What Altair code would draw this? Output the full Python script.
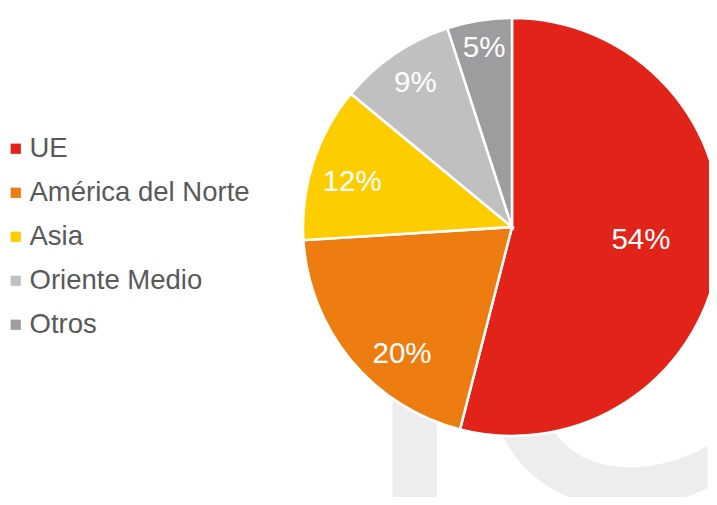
import math
import altair as alt
import pandas as pd

categorias = ["UE", "América del Norte", "Asia", "Oriente Medio", "Otros"]
valores = [54, 20, 12, 9, 5]
etiquetas = ["54%", "20%", "12%", "9%", "5%"]
colores = ["#E2231A", "#EE7D11", "#FDCD00", "#C1C0C1", "#9D9C9E"]
marca_r = ["r"]
marca_c = ["c"]

df = pd.DataFrame({
    "categoria": categorias,
    "valor": valores,
    "etiqueta": etiquetas,
    "orden": list(range(len(categorias))),
})

CX, CY, R = 504, 219, 209
theta_scale = alt.Scale(domain=[0, 100], range=[0, 2 * math.pi])

def wm_layer(letra, x, y, size, align):
    return alt.Chart(pd.DataFrame({"t": letra})).mark_text(
        fontSize=size, font="DejaVu Sans", color="#EDEDED",
        align=align, baseline="alphabetic"
    ).encode(text="t:N", x=alt.value(x), y=alt.value(y))

wm_r = wm_layer(marca_r, 340, 495, 490, "left")
wm_c = wm_layer(marca_c, 591, 491, 510, "center")

pie = alt.Chart(df).mark_arc(radius=R, stroke="white", strokeWidth=2.5).encode(
    theta=alt.Theta("valor:Q", stack=True, scale=theta_scale),
    order=alt.Order("orden:Q"),
    color=alt.Color(
        "categoria:N",
        scale=alt.Scale(domain=categorias, range=colores),
        sort=categorias,
        legend=alt.Legend(
            title=None, orient="none", legendX=-6, legendY=127, padding=0,
            symbolType="square", symbolSize=105, symbolStrokeWidth=0,
            labelFontSize=27.5, labelFont="Liberation Sans", labelColor="#595959",
            labelOffset=0, rowPadding=15, labelLimit=500,
        ),
    ),
    x=alt.value(CX), y=alt.value(CY),
)

# label placement style per slice: (radius, dx, dy)
label_style = {
    "UE": (130, 0, -3),
    "América del Norte": (170, 21, 19),
    "Asia": (168, 0, 7),
    "Oriente Medio": (172, 0, -2),
    "Otros": (178, 0, -3),
}

def label_layer(cat, radio, dx, dy):
    return alt.Chart(df).transform_window(
        cum="sum(valor)", sort=[alt.SortField("orden")]
    ).transform_calculate(
        mid="datum.cum - datum.valor / 2"
    ).transform_filter(alt.datum.categoria == cat).mark_text(
        radius=radio, dx=dx, dy=dy, fontSize=29.5, font="Liberation Sans",
        color="white", align="center", baseline="middle"
    ).encode(
        theta=alt.Theta("mid:Q", scale=theta_scale),
        text="etiqueta:N",
        x=alt.value(CX), y=alt.value(CY),
    )

labels = [label_layer(c, *label_style[c]) for c in categorias]

chart = alt.layer(wm_r, wm_c, pie, *labels).properties(
    width=701, height=489,
    autosize=alt.AutoSizeParams(type="none"),
    padding=0, background="white",
).configure_view(stroke=None)

chart.save("out.html", embed_options={"renderer": "svg", "actions": False})
